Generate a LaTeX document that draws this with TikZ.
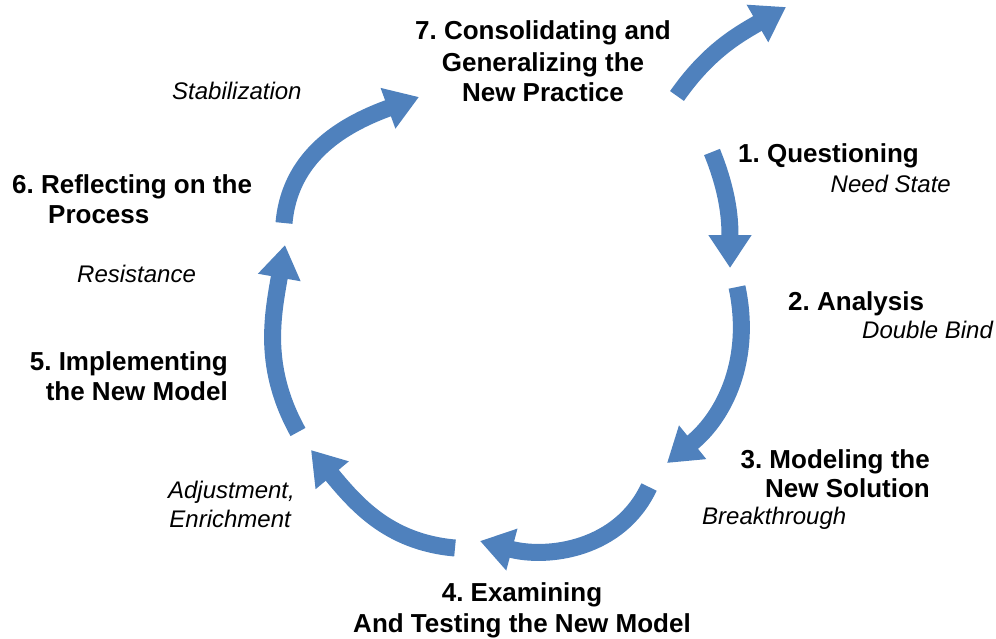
\documentclass[tikz,border=0pt]{standalone}
\usepackage{fontspec}
\setmainfont{Liberation Sans}
\usetikzlibrary{arrows.meta}
\definecolor{cblue}{HTML}{4F81BD}
\frenchspacing
\begin{document}
\begin{tikzpicture}[x=1pt,y=1pt,
  cyc/.style={line width=17pt, draw=cblue, -{Triangle[width=41pt,length=33pt]}},
  ttl/.style={font=\fontsize{26}{30}\selectfont\bfseries, inner sep=0pt},
  sub/.style={font=\fontsize{24}{29}\selectfont\itshape, inner sep=0pt}]
\useasboundingbox (0,0) rectangle (996,-638);

% texts
\node[ttl, anchor=base] (t7a) at (543,-39) {7. Consolidating and};
\node[ttl, anchor=base] (t7b) at (543,-71) {Generalizing the};
\node[ttl, anchor=base] (t7c) at (543,-101) {New Practice};
\node[sub, anchor=base west] (s7) at (172,-99) {Stabilization};

\node[ttl, anchor=base west] (t1) at (738,-162) {1. Questioning};
\node[sub, anchor=base east] (s1) at (951,-192) {Need State};

\node[ttl, anchor=base west] (t2) at (788,-310) {2. Analysis};
\node[sub, anchor=base west] (s2) at (862,-338) {Double Bind};

\node[ttl, anchor=base east] (t3a) at (930,-468) {3. Modeling the};
\node[ttl, anchor=base east] (t3b) at (930,-497) {New Solution};
\node[sub, anchor=base west] (s3) at (702,-524) {Breakthrough};

\node[ttl, anchor=base] (t4a) at (522,-601) {4. Examining};
\node[ttl, anchor=base] (t4b) at (522,-632) {And Testing the New Model};

\node[ttl, anchor=base east] (t5a) at (228,-370) {5. Implementing};
\node[ttl, anchor=base east] (t5b) at (228,-400) {the New Model};
\node[sub, anchor=base east] (s5a) at (295,-498) {Adjustment,};
\node[sub, anchor=base east] (s5b) at (291,-527) {Enrichment};

\node[ttl, anchor=base west] (t6a) at (12,-193) {6. Reflecting on the};
\node[ttl, anchor=base west] (t6b) at (48,-223) {Process};
\node[sub, anchor=base west] (s6) at (77,-282) {Resistance};

% arrow end points
\coordinate (a1s) at (712,-152); \coordinate (a1e) at (730,-268);
\coordinate (a2s) at (737,-287); \coordinate (a2e) at (667,-463);
\coordinate (a3s) at (649,-487); \coordinate (a3e) at (480,-541);
\coordinate (a4s) at (455,-548); \coordinate (a4e) at (311,-450);
\coordinate (a5s) at (298,-432); \coordinate (a5e) at (285,-245);
\coordinate (a6s) at (284,-223); \coordinate (a6e) at (419,-97);
\coordinate (a7s) at (677,-96);  \coordinate (a7e) at (786,-7);

\draw[cyc] (a1s) to[out=-68, in=90] (a1e);
\draw[cyc] (a2s) to[out=-78, in=39] (a2e);
\draw[cyc] (a3s) to[out=-115, in=-15] (a3e);
\draw[cyc] (a4s) to[out=175, in=-50] (a4e);
\draw[cyc] (a5s) to[out=119, in=-100] (a5e);
\draw[cyc] (a6s) to[out=85, in=200] (a6e);
\draw[cyc] (a7s) to[out=55, in=210] (a7e);
\end{tikzpicture}
\end{document}
